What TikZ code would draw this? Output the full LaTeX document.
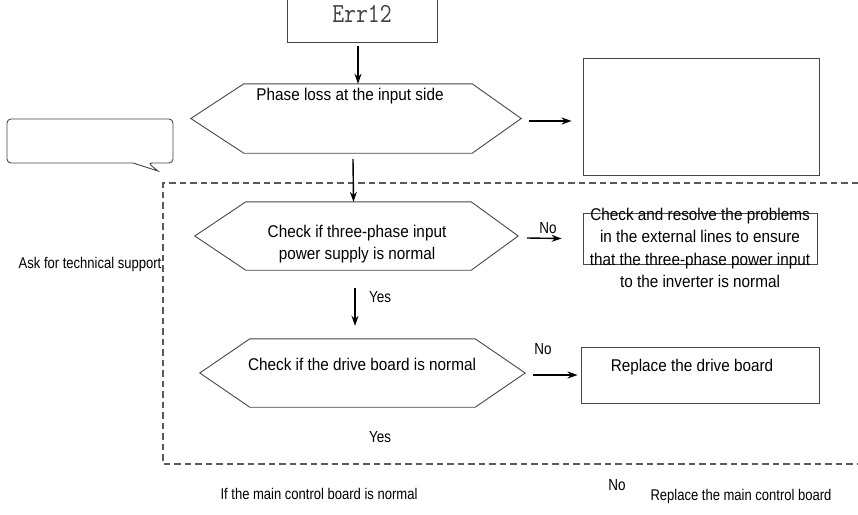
\documentclass[tikz,border=0pt]{standalone}
\usepackage{fontspec}
\setmainfont{Liberation Sans}[FakeStretch=0.9]
\newfontfamily\narrowfont{Liberation Sans}[FakeStretch=0.84]
\usetikzlibrary{arrows.meta,calc}
\begin{document}
\begin{tikzpicture}[x=1pt,y=-1pt,
  shapeline/.style={draw=black!72, line width=0.9pt},
  boxnode/.style={shapeline, inner sep=0pt},
  hexbody/.style={inner sep=0pt, draw=none},
  arr/.style={-{Stealth[length=10pt,width=7pt]}, line width=1.4pt, black},
  txt/.style={font=\fontsize{17}{22.5}\selectfont, inner sep=0pt, align=center},
  lbl/.style={font=\narrowfont\fontsize{16}{18}\selectfont, inner sep=0pt},
  lowtxt/.style={font=\narrowfont\fontsize{15.5}{18}\selectfont, inner sep=0pt},
  frame/.style={draw=black!65, line width=1.1pt, dash pattern=on 6.5pt off 4pt}]
\useasboundingbox (0,0) rectangle (858,514);

% Err12 box (its top lies just above the picture's edge)
\begin{scope}
\clip (0,0) rectangle (858,514);
\node[boxnode, minimum width=150, minimum height=46] (err) at (362,19.5) {};
\end{scope}
\node[inner sep=0pt, text=black!75] (errtxt) at (362,14) {\scalebox{1}[1.2]{\fontsize{23}{23}\selectfont\ttfamily Err12}};

% hexagon 1
\node[hexbody, minimum width=228, minimum height=69] (h1) at (358,118.5) {};
\coordinate (h1r) at ($(h1.east)+(49,0)$);
\coordinate (h1l) at ($(h1.west)+(-53,0)$);
\draw[shapeline] (h1.north west) -- (h1.north east) -- (h1r) -- (h1.south east) -- (h1.south west) -- (h1l) -- cycle;
\node[txt] (h1t) at (350,96) {Phase loss at the input side};

% box 1 (empty)
\node[boxnode, minimum width=236, minimum height=117] (b1) at (701,116.5) {};

% callout
\draw[shapeline, rounded corners=4pt] (70,163) -- (7,163) -- (7,119) -- (173,119) -- (173,163) -- (148,163) [sharp corners] -- (158,171) -- (133,163) -- cycle;
\node[lowtxt] (ask) at (90,264) {Ask for technical support};

% dashed frame
\coordinate (ftr) at (858,183);
\coordinate (fbl) at (163,464);
\coordinate (fbr) at (858,464);
\draw[frame] (ftr) -| (fbl) -- (fbr);

% hexagon 2
\node[hexbody, minimum width=225, minimum height=68] (h2) at (358.5,236) {};
\coordinate (h2r) at ($(h2.east)+(47,0)$);
\coordinate (h2l) at ($(h2.west)+(-51,0)$);
\draw[shapeline] (h2.north west) -- (h2.north east) -- (h2r) -- (h2.south east) -- (h2.south west) -- (h2l) -- cycle;
\node[txt] (h2t) at (357,244) {Check if three-phase input\\power supply is normal};

% box 2
\node[boxnode, minimum width=234, minimum height=51] (b2) at (700,238.5) {};
\node[txt] (b2t) at (700,248) {Check and resolve the problems\\in the external lines to ensure\\that the three-phase power input\\to the inverter is normal};

% hexagon 3
\node[hexbody, minimum width=225, minimum height=68] (h3) at (362.5,373) {};
\coordinate (h3r) at ($(h3.east)+(50,0)$);
\coordinate (h3l) at ($(h3.west)+(-50,0)$);
\draw[shapeline] (h3.north west) -- (h3.north east) -- (h3r) -- (h3.south east) -- (h3.south west) -- (h3l) -- cycle;
\node[txt] (h3t) at (362,364) {Check if the drive board is normal};

% box 3
\node[boxnode, minimum width=238, minimum height=56] (b3) at (700,375) {};
\node[txt] (b3t) at (692,367) {Replace the drive board};

% arrows
\draw[arr] (358,46) -- (h1.north);
\draw[arr] ($(h1r)+(8,2.5)$) -- ($(b1.west |- h1r)+(-11,2.5)$);
\draw[arr] ($(h1.south)+(-5,6)$) -- ($(h2.north)+(-5,0)$);
\draw[arr] ($(h2r)+(9,2)$) -- ($(b2.west)+(-21,0)$);
\draw[arr] ($(h2.south)+(-3.5,18)$) -- ($(h3.north)+(-7.5,-13)$);
\draw[arr] ($(h3r)+(8,2)$) -- ($(b3.west)+(-3,0)$);

% labels
\node[lbl] (no1) at (548,228) {No};
\node[lbl] (yes1) at (380,297) {Yes};
\node[lbl] (no2) at (543,349) {No};
\node[lbl] (yes2) at (380,437) {Yes};

% bottom texts
\node[lowtxt] (mcb) at (319,494) {If the main control board is normal};
\node[lbl] (no3) at (617,485) {No};
\node[lowtxt] (rmcb) at (741,496) {Replace the main control board};
\end{tikzpicture}
\end{document}
